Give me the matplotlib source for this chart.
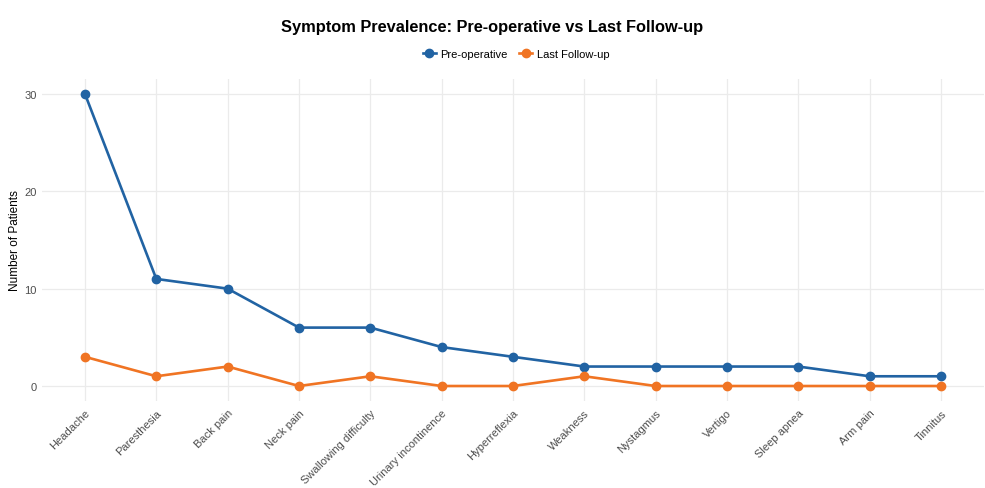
import matplotlib
matplotlib.use('Agg')
import matplotlib.pyplot as plt

plt.rcParams['font.family'] = ['Liberation Sans', 'DejaVu Sans']

symptoms = ['Headache', 'Paresthesia', 'Back pain', 'Neck pain', 'Swallowing difficulty',
            'Urinary incontinence', 'Hyperreflexia', 'Weakness', 'Nystagmus', 'Vertigo',
            'Sleep apnea', 'Arm pain', 'Tinnitus']
pre_op = [30, 11, 10, 6, 6, 4, 3, 2, 2, 2, 2, 1, 1]
last_fu = [3, 1, 2, 0, 1, 0, 0, 1, 0, 0, 0, 0, 0]

blue = '#2163a3'
orange = '#f07423'

fig = plt.figure(figsize=(9.85, 4.89), dpi=100)
ax = fig.add_axes([0.0428, 0.1787, 0.956, 0.657])

x = list(range(len(symptoms)))
ax.plot(x, pre_op, color=blue, lw=1.9, marker='o', ms=6, label='Pre-operative')
ax.plot(x, last_fu, color=orange, lw=1.9, marker='o', ms=6, label='Last Follow-up')

ax.set_xlim(-0.6, len(symptoms) - 1 + 0.6)
ax.set_ylim(-1.5, 31.5)
ax.set_yticks([0, 10, 20, 30])
ax.set_xticks(x)
ax.set_xticklabels(symptoms, rotation=45, ha='right', va='top', rotation_mode='anchor')

ax.grid(True, color='#ebebeb', lw=0.9)
ax.set_axisbelow(True)
for s in ax.spines.values():
    s.set_visible(False)
ax.tick_params(length=0, labelsize=8, labelcolor='#4d4d4d', pad=4)
ax.tick_params(axis='x', pad=5)

ax.set_ylabel('Number of Patients', fontsize=8.5, color='black', va='center')
ax.yaxis.set_label_coords(-0.029, 0.5)

fig.text(0.5, 0.944, 'Symptom Prevalence: Pre-operative vs Last Follow-up', fontsize=11.8,
         fontweight='bold', ha='center', va='center')
fig.legend(loc='center', bbox_to_anchor=(0.524, 0.887), ncol=2, frameon=False,
           fontsize=8, handlelength=1.2, columnspacing=1.0, handletextpad=0.4)

fig.savefig('out.png', dpi=100, facecolor='white')
